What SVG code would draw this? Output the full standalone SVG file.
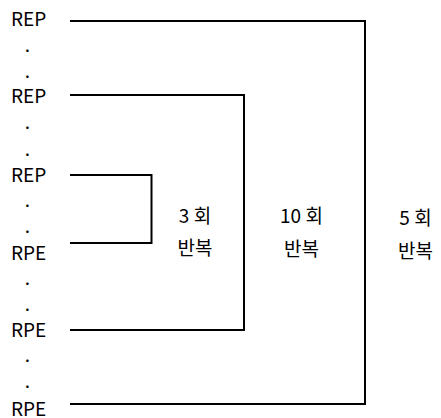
<svg xmlns="http://www.w3.org/2000/svg" width="441" height="418" viewBox="0 0 441 418">
<style>
text{font-family:"Noto Sans CJK KR","Noto Sans",sans-serif;font-size:19px;fill:#000}
.dot{text-anchor:middle}
.c{text-anchor:middle}
.conn{fill:none;stroke:#000;stroke-width:2}
</style>
<rect width="441" height="418" fill="#fff"/>
<g id="connectors">
<path class="conn" d="M70,21 H365 V404 H70"/>
<path class="conn" d="M70,95 H244 V330 H70"/>
<path class="conn" d="M70,175 H151.5 V243 H70"/>
</g>
<g id="rep1"><text x="11" y="26">REP</text></g>
<g id="dots1"><text class="dot" x="27.5" y="51.5">.</text><text class="dot" x="27.5" y="77.5">.</text></g>
<g id="rep2"><text x="11" y="103">REP</text></g>
<g id="dots2"><text class="dot" x="27.5" y="128.5">.</text><text class="dot" x="27.5" y="155.5">.</text></g>
<g id="rep3"><text x="11" y="182">REP</text></g>
<g id="dots3"><text class="dot" x="27.5" y="206.5">.</text><text class="dot" x="27.5" y="232.5">.</text></g>
<g id="rpe1"><text x="11" y="260">RPE</text></g>
<g id="dots4"><text class="dot" x="27.5" y="284.5">.</text><text class="dot" x="27.5" y="310.5">.</text></g>
<g id="rpe2"><text x="11" y="337">RPE</text></g>
<g id="dots5"><text class="dot" x="27.5" y="362">.</text><text class="dot" x="27.5" y="388">.</text></g>
<g id="rpe3"><text x="11" y="416">RPE</text></g>
<g id="label3"><text class="c" x="195" y="223">3 회</text><text class="c" x="195" y="255">반복</text></g>
<g id="label10"><text class="c" x="301.5" y="223">10 회</text><text class="c" x="301.5" y="256">반복</text></g>
<g id="label5"><text class="c" x="415.5" y="225">5 회</text><text class="c" x="415.5" y="258">반복</text></g>
</svg>
